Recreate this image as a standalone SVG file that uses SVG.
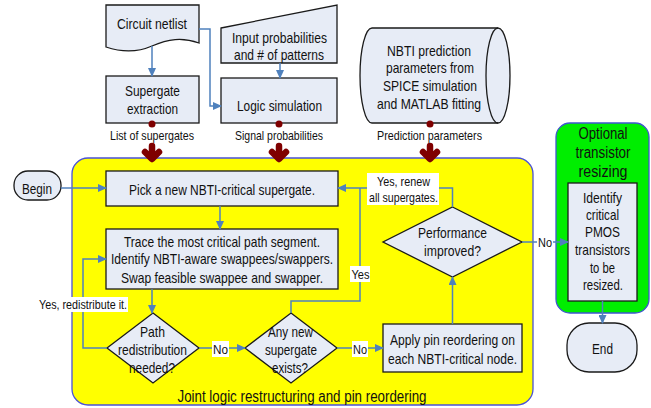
<svg xmlns="http://www.w3.org/2000/svg" width="651" height="408" viewBox="0 0 651 408">
<style>
.node{fill:#e7ecf6;stroke:#1a1a1a;stroke-width:1.3}
.t{font-family:"Liberation Sans",Arial,sans-serif;font-size:15px;fill:#111;text-anchor:middle}
.s{font-family:"Liberation Sans",Arial,sans-serif;font-size:13px;fill:#111;text-anchor:middle}
.big{font-family:"Liberation Sans",Arial,sans-serif;font-size:16px;fill:#111;text-anchor:middle}
.c{fill:none;stroke:#4f81bd;stroke-width:1.5}
.lbl{fill:#fff}
.red{fill:none;stroke:#7f0000;stroke-width:6.5;stroke-linecap:round;stroke-linejoin:round}
</style>
<defs>
<marker id="ah" markerWidth="9" markerHeight="8" refX="8" refY="4" orient="auto" markerUnits="userSpaceOnUse">
<path d="M0,0 L9,4 L0,8 Z" fill="#4f81bd"/>
</marker>
</defs>

<g id="containers">
<rect x="72" y="158" width="461" height="247" rx="16" fill="#ffff00" stroke="#4a52d6" stroke-width="1.3"/>
<rect x="556" y="123" width="93" height="190" rx="14" fill="#00ee00" stroke="#3f55d0" stroke-width="1.3"/>
<text class="big" x="302" y="401.5" textLength="249" lengthAdjust="spacingAndGlyphs">Joint logic restructuring and pin reordering</text>
<text class="big" x="603" y="138.5" textLength="49" lengthAdjust="spacingAndGlyphs">Optional</text>
<text class="big" x="603" y="157.5" textLength="55" lengthAdjust="spacingAndGlyphs">transistor</text>
<text class="big" x="603" y="176.5" textLength="49" lengthAdjust="spacingAndGlyphs">resizing</text>
</g>

<g id="netlist">
<path class="node" d="M106,5 H199 V43 C182,37 168,39 152,46 C136,53 121,52 106,47 Z"/>
<text class="t" x="152" y="28.5" textLength="70" lengthAdjust="spacingAndGlyphs">Circuit netlist</text>
</g>
<g id="supergate">
<rect class="node" x="106" y="76" width="93" height="47"/>
<text class="t" x="152.5" y="95.5" textLength="55" lengthAdjust="spacingAndGlyphs">Supergate</text>
<text class="t" x="152.5" y="113.5" textLength="51" lengthAdjust="spacingAndGlyphs">extraction</text>
</g>
<g id="inputprob">
<path class="node" d="M221,28 L337,5 L337,63 L221,63 Z"/>
<text class="t" x="279.5" y="42.5" textLength="95" lengthAdjust="spacingAndGlyphs">Input probabilities</text>
<text class="t" x="279" y="59.5" textLength="90" lengthAdjust="spacingAndGlyphs">and # of patterns</text>
</g>
<g id="logicsim">
<rect class="node" x="221" y="78" width="116" height="45"/>
<text class="t" x="279.5" y="110.5" textLength="85" lengthAdjust="spacingAndGlyphs">Logic simulation</text>
</g>
<g id="nbti">
<path class="node" d="M372,28 H498 A12,47.5 0 0 1 498,123 H372 A12,47.5 0 0 1 372,28 Z"/>
<path fill="none" stroke="#1a1a1a" stroke-width="1.3" d="M498,28 A12,47.5 0 0 0 498,123"/>
<text class="t" x="429" y="55.5" textLength="84" lengthAdjust="spacingAndGlyphs">NBTI prediction</text>
<text class="t" x="430" y="72.5" textLength="88" lengthAdjust="spacingAndGlyphs">parameters from</text>
<text class="t" x="430" y="90.5" textLength="94" lengthAdjust="spacingAndGlyphs">SPICE simulation</text>
<text class="t" x="429" y="108.5" textLength="104" lengthAdjust="spacingAndGlyphs">and MATLAB fitting</text>
</g>

<g id="dataflow">
<circle cx="152" cy="124" r="3.5" fill="#7f0000"/>
<circle cx="279" cy="124" r="3.5" fill="#7f0000"/>
<circle cx="430" cy="124" r="3.5" fill="#7f0000"/>
<text class="s" x="152" y="139.5" textLength="84" lengthAdjust="spacingAndGlyphs">List of supergates</text>
<text class="s" x="279" y="139.5" textLength="88" lengthAdjust="spacingAndGlyphs">Signal probabilities</text>
<text class="s" x="429.5" y="139.5" textLength="105" lengthAdjust="spacingAndGlyphs">Prediction parameters</text>
<path class="red" d="M152,146 V158 M145,152 L152,159 L159,152"/>
<path class="red" d="M279,146 V158 M272,152 L279,159 L286,152"/>
<path class="red" d="M430,146 V158 M423,152 L430,159 L437,152"/>
</g>

<g id="begin">
<rect class="node" x="14" y="171" width="47" height="29" rx="14"/>
<text class="t" x="37" y="193.5" textLength="30" lengthAdjust="spacingAndGlyphs">Begin</text>
</g>
<g id="pick">
<rect class="node" x="106" y="171" width="232" height="35"/>
<text class="t" x="222" y="194.5" textLength="186" lengthAdjust="spacingAndGlyphs">Pick a new NBTI-critical supergate.</text>
</g>
<g id="trace">
<rect class="node" x="106" y="229" width="232" height="60"/>
<text class="t" x="222" y="246.5" textLength="196" lengthAdjust="spacingAndGlyphs">Trace the most critical path segment.</text>
<text class="t" x="222" y="263.5" textLength="222" lengthAdjust="spacingAndGlyphs">Identify NBTI-aware swappees/swappers.</text>
<text class="t" x="222" y="282.5" textLength="202" lengthAdjust="spacingAndGlyphs">Swap feasible swappee and swapper.</text>
</g>
<g id="pathdec">
<path class="node" d="M153,313 L199,348 L153,383 L107,348 Z"/>
<text class="t" x="152.5" y="336.5" textLength="25" lengthAdjust="spacingAndGlyphs">Path</text>
<text class="t" x="152.5" y="354.5" textLength="69" lengthAdjust="spacingAndGlyphs">redistribution</text>
<text class="t" x="152" y="372.5" textLength="46" lengthAdjust="spacingAndGlyphs">needed?</text>
</g>
<g id="anynew">
<path class="node" d="M291,313 L337,348 L291,383 L245,348 Z"/>
<text class="t" x="290.5" y="336.5" textLength="45" lengthAdjust="spacingAndGlyphs">Any new</text>
<text class="t" x="291" y="354.5" textLength="52" lengthAdjust="spacingAndGlyphs">supergate</text>
<text class="t" x="290" y="372.5" textLength="36" lengthAdjust="spacingAndGlyphs">exists?</text>
</g>
<g id="apply">
<rect class="node" x="383" y="324" width="139" height="48"/>
<text class="t" x="452.5" y="344.5" textLength="125" lengthAdjust="spacingAndGlyphs">Apply pin reordering on</text>
<text class="t" x="452.5" y="363.5" textLength="129" lengthAdjust="spacingAndGlyphs">each NBTI-critical node.</text>
</g>
<g id="perf">
<path class="node" d="M452.5,207 L522,242 L452.5,277 L383,242 Z"/>
<text class="t" x="452.5" y="237.5" textLength="69" lengthAdjust="spacingAndGlyphs">Performance</text>
<text class="t" x="452.5" y="255.5" textLength="57" lengthAdjust="spacingAndGlyphs">improved?</text>
</g>
<g id="identify">
<rect class="node" x="568" y="183" width="69" height="118"/>
<text class="t" x="602.5" y="202.5" textLength="39" lengthAdjust="spacingAndGlyphs">Identify</text>
<text class="t" x="602.5" y="219.5" textLength="33" lengthAdjust="spacingAndGlyphs">critical</text>
<text class="t" x="602.5" y="236.5" textLength="35" lengthAdjust="spacingAndGlyphs">PMOS</text>
<text class="t" x="602.5" y="254.5" textLength="55" lengthAdjust="spacingAndGlyphs">transistors</text>
<text class="t" x="602.5" y="272.5" textLength="25" lengthAdjust="spacingAndGlyphs">to be</text>
<text class="t" x="603" y="289.5" textLength="40" lengthAdjust="spacingAndGlyphs">resized.</text>
</g>
<g id="end">
<rect class="node" x="567" y="323" width="70" height="49" rx="22"/>
<text class="t" x="602.5" y="353.5" textLength="21" lengthAdjust="spacingAndGlyphs">End</text>
</g>

<g id="connectors">
<path class="c" d="M152,46 V76" marker-end="url(#ah)"/>
<path class="c" d="M199,29 H210 V106 H221" marker-end="url(#ah)"/>
<path class="c" d="M280,63 V78" marker-end="url(#ah)"/>
<path class="c" d="M61,188 H106" marker-end="url(#ah)"/>
<path class="c" d="M220,206 V229" marker-end="url(#ah)"/>
<path class="c" d="M152,289 V313" marker-end="url(#ah)"/>
<path class="c" d="M107,348 H83 V259 H106" marker-end="url(#ah)"/>
<path class="c" d="M199,348 H245" marker-end="url(#ah)"/>
<path class="c" d="M291,313 V301 H360 V188"/>
<path class="c" d="M337,348 H383" marker-end="url(#ah)"/>
<path class="c" d="M452.5,324 V277" marker-end="url(#ah)"/>
<path class="c" d="M452.5,207 V188 H338" marker-end="url(#ah)"/>
<path class="c" d="M522,242 H568" marker-end="url(#ah)"/>
<path class="c" d="M602.5,301 V323" marker-end="url(#ah)"/>
<rect class="lbl" x="38" y="297" width="90" height="15"/>
<text class="s" x="83" y="309" textLength="88" lengthAdjust="spacingAndGlyphs">Yes, redistribute it.</text>
<rect class="lbl" x="212" y="341" width="17" height="16"/>
<text class="s" x="220.5" y="353.5" textLength="15" lengthAdjust="spacingAndGlyphs">No</text>
<rect class="lbl" x="352" y="341" width="16" height="16"/>
<text class="s" x="360" y="353.5" textLength="14" lengthAdjust="spacingAndGlyphs">No</text>
<rect class="lbl" x="350" y="266" width="20" height="16"/>
<text class="s" x="360.5" y="278.5" textLength="18" lengthAdjust="spacingAndGlyphs">Yes</text>
<rect class="lbl" x="367" y="173" width="72" height="32"/>
<text class="s" x="403.5" y="185.5" textLength="53" lengthAdjust="spacingAndGlyphs">Yes, renew</text>
<text class="s" x="403.5" y="201.5" textLength="69" lengthAdjust="spacingAndGlyphs">all supergates.</text>
<rect class="lbl" x="537" y="234" width="16" height="16"/>
<text class="s" x="545" y="246.5" textLength="14" lengthAdjust="spacingAndGlyphs">No</text>
</g>
</svg>
